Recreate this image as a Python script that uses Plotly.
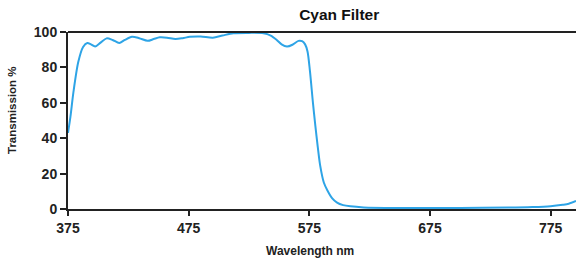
import plotly.graph_objects as go

wavelength = [375, 377, 379.5, 383.5, 387.5, 391, 394, 397.5, 402, 407, 412, 417.5, 422, 428, 434,
              441, 446, 451, 457, 464, 470, 476, 485, 495, 503, 512, 525, 537, 543, 548, 552,
              556.5, 561, 566, 569, 571.5, 573.5, 575.5, 578, 580, 582, 584, 587, 590, 594, 598,
              603, 609, 620, 650, 700, 740, 760, 775, 785, 790, 796]
transmission = [43, 52, 66, 83, 91.5, 93.8, 93, 91.8, 94, 96.4, 95.5, 93.8, 95.5, 97.3, 96.5,
                95, 96, 97, 96.8, 96, 96.5, 97.3, 97.5, 96.8, 98, 99.3, 99.5, 99.3, 98, 95.5, 93,
                91.8, 92.8, 95, 94.8, 93, 89, 78, 60, 47, 35, 24.5, 15, 10.5, 6, 3.6,
                2.2, 1.5, 0.9, 0.6, 0.6, 0.8, 1.1, 1.6, 2.4, 3.0, 4.5]
x_ticks = [375, 475, 575, 675, 775]
y_ticks = [0, 20, 40, 60, 80, 100]

W, H = 576, 261
fig = go.Figure()
fig.add_trace(go.Scatter(x=wavelength, y=transmission, mode="lines",
                         line=dict(color="#2ea4e6", width=2, shape="spline", smoothing=0.8),
                         showlegend=False, hoverinfo="skip"))

font = "Liberation Sans, Arial, sans-serif"
fig.update_layout(
    width=W, height=H,
    margin=dict(l=68, r=0, t=32, b=52, autoexpand=False),
    paper_bgcolor="white", plot_bgcolor="white",
    title=dict(text="<b>Cyan Filter</b>", x=307.5 / W, xanchor="center", xref="paper",
               y=1 - 15 / H, yanchor="middle",
               font=dict(family=font, size=15.5, color="#111")),
    xaxis=dict(range=[375, 796], tickvals=x_ticks, ticktext=[f"<b>{v}</b>" for v in x_ticks],
               showgrid=False, zeroline=False, showline=True, linecolor="#222", linewidth=2,
               ticks="outside", ticklen=5, tickwidth=1.5, tickcolor="#222", automargin=False,
               tickfont=dict(family=font, size=14, color="#222")),
    yaxis=dict(range=[0, 100], tickvals=y_ticks, ticktext=[f"<b>{v}</b>" for v in y_ticks],
               showgrid=False, zeroline=False, showline=True, linecolor="#222", linewidth=2,
               ticks="outside", ticklen=6, tickwidth=1.5, tickcolor="#222", automargin=False,
               tickfont=dict(family=font, size=14, color="#222")),
)
fig.add_shape(type="line", xref="paper", yref="paper", x0=0, x1=1, y0=1, y1=1,
              line=dict(color="#222", width=2))

# axis titles placed as paper annotations
plot_w = W - 68
plot_h = H - 32 - 52
fig.add_annotation(text="<b>Wavelength nm</b>", xref="paper", yref="paper",
                   x=(310 - 68) / plot_w, y=-(251 - 209) / plot_h,
                   xanchor="center", yanchor="middle", showarrow=False,
                   font=dict(family=font, size=12, color="#222"))
fig.add_annotation(text="<b>Transmission %</b>", xref="paper", yref="paper",
                   x=-(68 - 12) / plot_w, y=(209 - 110) / plot_h, textangle=-90,
                   xanchor="center", yanchor="middle", showarrow=False,
                   font=dict(family=font, size=11.5, color="#222"))

fig.write_html("out.html", config={"displayModeBar": False},
               post_script="document.body.style.margin='0';")
